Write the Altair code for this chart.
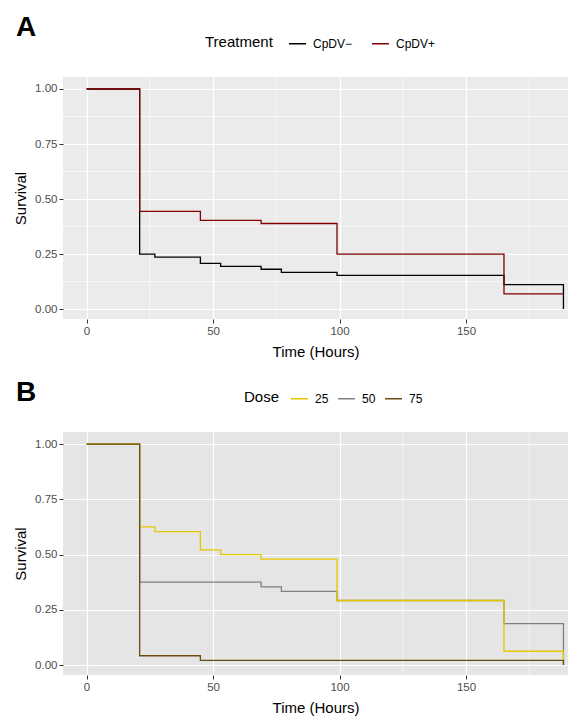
import altair as alt
import pandas as pd

# ---------------- data ----------------
# Panel A: Treatment
a_neg_t = [0, 21, 27, 45, 53, 69, 77, 99, 165, 188.5]
a_neg_s = [1.0, 0.250, 0.236, 0.208, 0.194, 0.181, 0.167, 0.153, 0.111, 0.0]
a_pos_t = [0, 21, 45, 69, 99, 165, 188.5]
a_pos_s = [1.0, 0.444, 0.403, 0.389, 0.250, 0.069, 0.069]
a_groups = ["CpDV\u2212", "CpDV+"]
a_colors = ["#000000", "#7F0000"]

# Panel B: Dose
b25_t = [0, 21, 27, 45, 53, 69, 99, 165, 188.5]
b25_s = [1.0, 0.625, 0.604, 0.521, 0.500, 0.479, 0.292, 0.0625, 0.0]
b50_t = [0, 21, 69, 77, 99, 165, 188.5]
b50_s = [1.0, 0.375, 0.354, 0.333, 0.292, 0.1875, 0.0]
b75_t = [0, 21, 45, 188.5]
b75_s = [1.0, 0.042, 0.021, 0.0]
b_groups = ["25", "50", "75"]
b_colors = ["#E6C800", "#7F7F7F", "#6B4C10"]

x_ticks = [0, 50, 100, 150]
y_ticks = [0.0, 0.25, 0.5, 0.75, 1.0]
a_minor_x = [25, 75, 125, 175]
a_minor_y = [0.125, 0.375, 0.625, 0.875]
b_minor_x = [125, 175]

X_DOMAIN = [-9.3, 190.3]
Y_DOMAIN = [-0.045, 1.0545]
W = 505


def series_df(t, s, g):
    return pd.DataFrame({"t": t, "s": s, "g": [g] * len(t)})


def xenc(field):
    return alt.X(f"{field}:Q", scale=alt.Scale(domain=X_DOMAIN, nice=False, zero=False),
                 axis=alt.Axis(values=x_ticks, title="Time (Hours)", grid=True,
                               gridColor="white", gridWidth=1.2, titlePadding=8))


def yenc(field):
    return alt.Y(f"{field}:Q", scale=alt.Scale(domain=Y_DOMAIN, nice=False, zero=False),
                 axis=alt.Axis(values=y_ticks, format=".2f", title="Survival", grid=True,
                               gridColor="white", gridWidth=1.2, titlePadding=6))


def panel(series, groups, colors, legend_title, legend_x, col_pad, title_pad,
          minor_x, minor_y, letter, letter_y, height, bg):
    layers = []
    if minor_x:
        layers.append(alt.Chart(pd.DataFrame({"v": minor_x})).mark_rule(
            color="white", strokeWidth=0.6).encode(x=xenc("v")))
    if minor_y:
        layers.append(alt.Chart(pd.DataFrame({"v": minor_y})).mark_rule(
            color="white", strokeWidth=0.6).encode(y=yenc("v")))
    color = alt.Color(
        "g:N",
        scale=alt.Scale(domain=groups, range=colors),
        legend=alt.Legend(
            title=legend_title, orient="none", legendX=legend_x, legendY=-43,
            direction="horizontal", titleOrient="left", symbolType="stroke",
            symbolSize=289, symbolStrokeWidth=1.5, titleFontSize=15,
            titleFontWeight="normal", labelFontSize=12, titleColor="#000000",
            labelColor="#000000", columnPadding=col_pad, titlePadding=title_pad,
            labelOffset=6, titleBaseline="middle", titleAnchor="middle",
        ),
    )
    for df in series:
        layers.append(alt.Chart(df).mark_line(interpolate="step-after", strokeWidth=1.3)
                      .encode(x=xenc("t"), y=yenc("s"), color=color))
    layers.append(alt.Chart(pd.DataFrame({"label": [letter]})).mark_text(
        fontSize=28, fontWeight="bold", align="left", baseline="alphabetic",
        font="Liberation Sans", color="#000000").encode(
        x=alt.value(-47), y=alt.value(letter_y), text="label:N"))
    return alt.layer(*layers).properties(
        width=W, height=height,
        view=alt.ViewBackground(fill=bg, stroke=None))


chart_a = panel(
    [series_df(a_neg_t, a_neg_s, a_groups[0]), series_df(a_pos_t, a_pos_s, a_groups[1])],
    a_groups, a_colors, "Treatment", 142, 16, 15, a_minor_x, a_minor_y, "A", -41, 242, "#EBEBEB")

chart_b = panel(
    [series_df(b50_t, b50_s, b_groups[1]), series_df(b25_t, b25_s, b_groups[0]),
     series_df(b75_t, b75_s, b_groups[2])],
    b_groups, b_colors, "Dose", 181, 6, 10, b_minor_x, None, "B", -31, 243, "#E5E5E5")

chart = alt.vconcat(chart_a, chart_b, spacing=19).resolve_scale(
    color="independent").resolve_legend(color="independent").properties(
    padding={"left": 5, "top": 6, "right": 0, "bottom": 0},
    background="white",
).configure(font="Liberation Sans").configure_axis(
    labelColor="#4D4D4D", labelFontSize=11.5, titleFontSize=15, titleColor="#000000",
    titleFontWeight="normal", tickColor="#333333", tickSize=4, tickWidth=1,
    domain=False, labelPadding=2,
).configure_view(stroke=None)

chart.save("out.html", embed_options={"renderer": "svg", "actions": False})
